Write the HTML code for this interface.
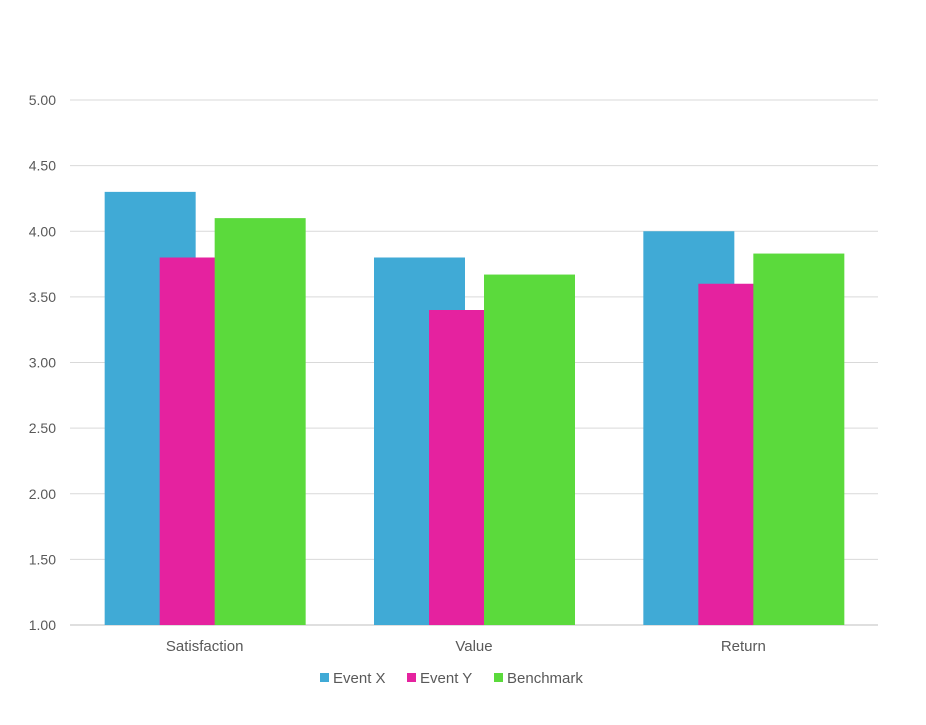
<!DOCTYPE html>
<html><head><meta charset="utf-8"><style>
body{margin:0;background:#fff;}
svg text{font-family:"Liberation Sans",sans-serif;fill:#595959;}
</style></head><body>
<svg id="chart" width="926" height="720" xmlns="http://www.w3.org/2000/svg"></svg>
<script>
const categories=["Satisfaction","Value","Return"];
const seriesNames=["Event X","Event Y","Benchmark"];
const eventX=[4.30,3.80,4.00];
const eventY=[3.80,3.40,3.60];
const benchmark=[4.10,3.67,3.83];
const yTicks=[1.00,1.50,2.00,2.50,3.00,3.50,4.00,4.50,5.00];
const colors=["#40AAD6","#E5229F","#5BDA3C"];
const NS="http://www.w3.org/2000/svg";
const svg=document.getElementById('chart');
const x0=70,x1=878,yTop=100,yBot=625,yMin=1,yMax=5;
const y=v=>yBot-(v-yMin)/(yMax-yMin)*(yBot-yTop);
const groupW=(x1-x0)/categories.length;
const cx=i=>x0+groupW*(i+0.5);
function mk(t,a){const e=document.createElementNS(NS,t);for(const k in a)e.setAttribute(k,a[k]);svg.appendChild(e);return e;}
yTicks.forEach(t=>{
  const l=mk('line',{x1:x0,x2:x1,y1:y(t),y2:y(t),stroke:t===yMin?'#BFBFBF':'#D9D9D9','stroke-width':1});
  
  
  const tx=mk('text',{x:56,y:y(t)+5,'text-anchor':'end','font-size':14});
  tx.textContent=t.toFixed(2);
  
  
});
const series=[eventX,eventY,benchmark];
const barW=91,step=55;
categories.forEach((c,i)=>{
  series.forEach((s,j)=>{
    const left=cx(i)-100+j*step;
    const r=mk('rect',{x:left,y:y(s[i]),width:barW,height:yBot-y(s[i]),fill:colors[j]});
    
    
  });
  const t=mk('text',{x:cx(i),y:651,'text-anchor':'middle','font-size':15});
  t.textContent=c;
  
  
});
const legX=[320,407,494];
seriesNames.forEach((n,j)=>{
  const r=mk('rect',{x:legX[j],y:673,width:9,height:9,fill:colors[j]});
  
  
  const t=mk('text',{x:legX[j]+13,y:683,'font-size':15});
  t.textContent=n;
  
  
});
</script>
</body></html>
